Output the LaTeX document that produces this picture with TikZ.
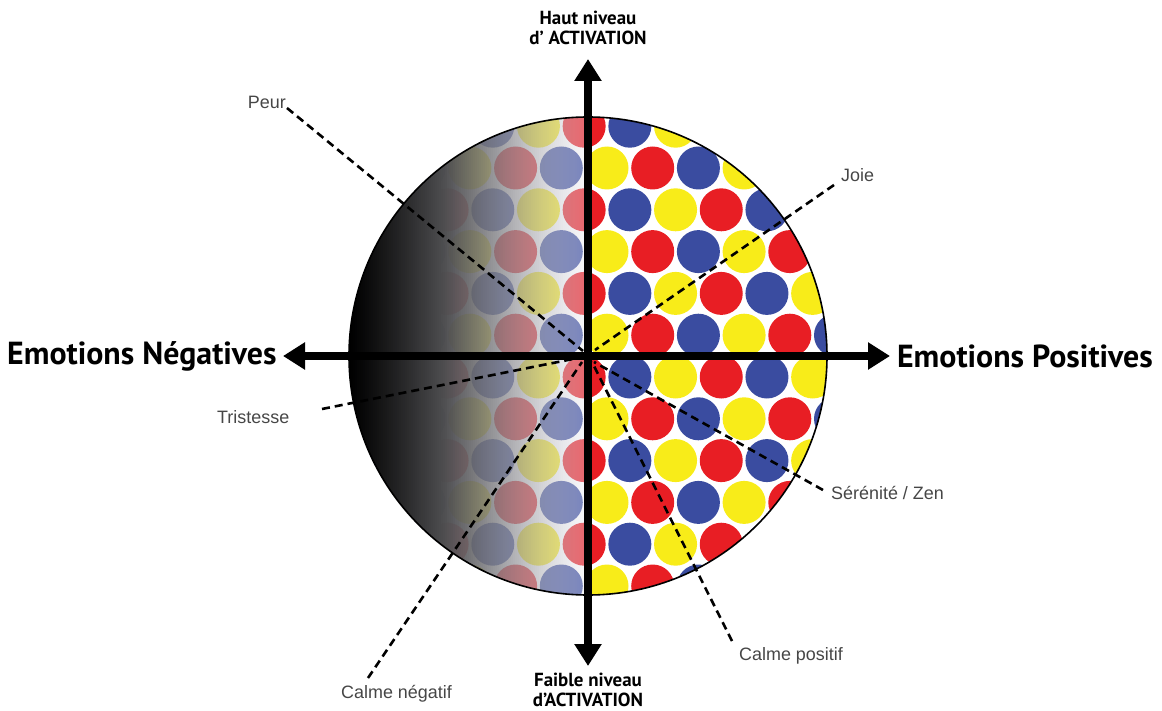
\documentclass[tikz,border=0pt]{standalone}
\usepackage{fontspec}
\setmainfont{Liberation Sans}
\newfontfamily\boldfont{PT Sans}[BoldFont={PT Sans Bold}]
\usetikzlibrary{arrows.meta}
\definecolor{cy}{RGB}{248,236,25}
\definecolor{cr}{RGB}{232,30,36}
\definecolor{cb}{RGB}{58,76,160}
\definecolor{lblgray}{RGB}{70,70,70}
\definecolor{veiltop}{RGB}{236,236,244}
\tikzset{
  dashline/.style={line width=2.6bp, dash pattern=on 8bp off 5bp},
  axisline/.style={line width=8bp, {Triangle[width=26bp,length=22bp]}-{Triangle[width=26bp,length=22bp]}},
  biglbl/.style={inner sep=0pt, font=\boldfont\bfseries\fontsize{32}{36}\selectfont},
  midlbl/.style={inner sep=0pt, align=center, font=\boldfont\bfseries\fontsize{19}{20.5}\selectfont},
  smalllbl/.style={inner sep=0pt, text=lblgray, font=\fontsize{18}{20}\selectfont},
  rim/.style={line width=1.6bp}
}
\begin{document}
\begin{tikzpicture}[x=1bp,y=-1bp]
\useasboundingbox (0,0) rectangle (1162,711);
\coordinate (C) at (588,356);
% dotted pattern
\begin{scope}
\clip (C) circle[radius=239];
\foreach \j in {-1,...,10}{
  \foreach \k in {-13,...,11}{
    \pgfmathtruncatemacro\pp{Mod(\k+\j,2)}
    \ifnum\pp=0
      \pgfmathtruncatemacro\cc{Mod((\k-3*(\j))/2,3)}
      \ifcase\cc \def\col{cy}\or \def\col{cr}\or \def\col{cb}\fi
      \fill[\col] (607+22.85*\k, 168+41.8*\j) circle[radius=21.5];
    \fi
  }
}
% dark veil over the negative half
\foreach \i in {0,...,119}{
  \pgfmathsetmacro\t{(\i+0.5)/120}
  \pgfmathsetmacro\g{min(1,\t^1.2)}
  \pgfmathsetmacro\pc{100*\g}
  \pgfmathsetmacro\a{1-0.65*(max(0,(\t-0.38)/0.62))^1.3}
  \fill[veiltop!\pc!black, opacity=\a] (349+2*\i,116) rectangle (351+2*\i,596);
}
\end{scope}
\draw[rim] (C) circle[radius=239];
% dashed emotion lines
\coordinate (peurA) at (287,108);   \coordinate (peurB) at (583,351);
\coordinate (joieA) at (834,185);   \coordinate (joieB) at (595,350);
\coordinate (tristA) at (322,409);  \coordinate (tristB) at (583,357);
\coordinate (zenA) at (823,490);    \coordinate (zenB) at (594,362);
\coordinate (cposA) at (732,641);   \coordinate (cposB) at (592,362);
\coordinate (cnegA) at (368,678);   \coordinate (cnegB) at (582,362);
\draw[dashline] (peurA) -- (peurB);
\draw[dashline] (joieA) -- (joieB);
\draw[dashline] (tristA) -- (tristB);
\draw[dashline] (zenA) -- (zenB);
\draw[dashline] (cposA) -- (cposB);
\draw[dashline] (cnegA) -- (cnegB);
% axes
\coordinate (T) at (588,59);
\coordinate (B) at (588,666);
\coordinate (L) at (283,356);
\coordinate (R) at (890,356);
\draw[axisline] (B) -- (T);
\draw[axisline] (L) -- (R);
% labels
\node[biglbl, anchor=west] (neg) at (7,356) {Emotions Négatives};
\node[biglbl, anchor=east] (pos) at (1153,356) {Emotions Positives};
\node[midlbl] (haut) at (588,28) {Haut niveau\\d’ ACTIVATION};
\node[midlbl] (faible) at (588,690) {Faible niveau\\d’ACTIVATION};
\node[smalllbl, anchor=east] (peur) at (286,102) {Peur};
\node[smalllbl, anchor=west] (joie) at (841,175) {Joie};
\node[smalllbl, anchor=west] (trist) at (217,417) {Tristesse};
\node[smalllbl, anchor=west] (zen) at (831,493) {Sérénité / Zen};
\node[smalllbl, anchor=west] (cpos) at (739,656) {Calme positif};
\node[smalllbl, anchor=west] (cneg) at (341,694) {Calme négatif};
\end{tikzpicture}
\end{document}
